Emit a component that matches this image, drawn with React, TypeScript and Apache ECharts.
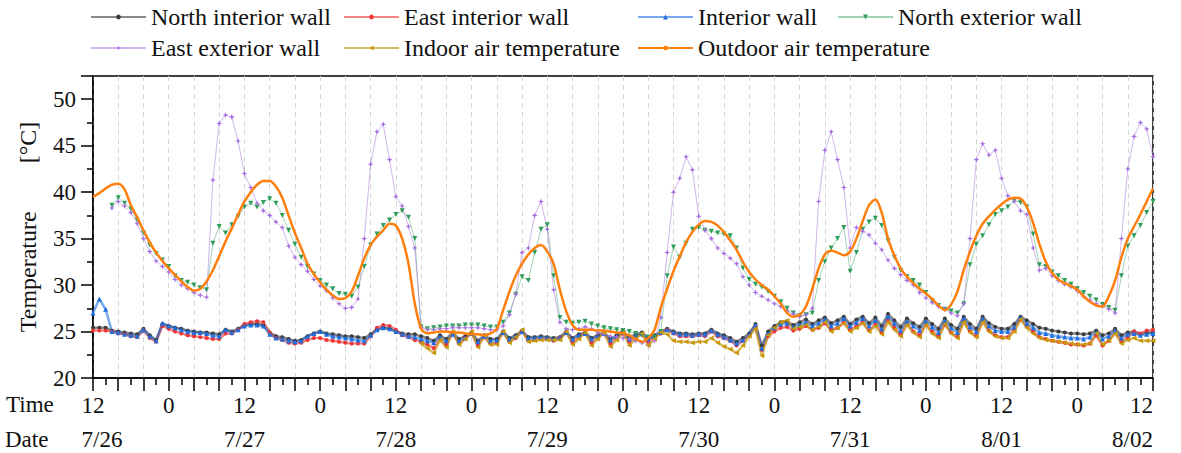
import React, { useEffect, useRef } from 'react';
import * as echarts from 'echarts';

// Hours are counted from 7/26 12:00 (0) to 8/02 12:00 (168), hourly samples.
const dateLabels = ['7/26', '7/27', '7/28', '7/29', '7/30', '7/31', '8/01', '8/02'];

const outdoorAir = [
  39.5, 39.9, 40.4, 40.8, 40.9, 40.3, 38.6, 37.3, 35.9, 34.6,
  33.5, 32.6, 31.8, 31.1, 30.4, 29.8, 29.4, 29.6, 30.4, 31.6,
  33.1, 34.7, 36.1, 37.6, 39.0, 40.0, 40.8, 41.2, 41.2, 40.6,
  39.4, 37.5, 35.6, 34.0, 32.3, 31.2, 30.3, 29.5, 28.9, 28.5,
  28.6, 29.3, 31.0, 32.9, 34.3, 35.2, 35.9, 36.6, 36.4, 35.0,
  32.3, 28.0, 25.3, 24.8, 24.9, 25.0, 25.0, 24.9, 24.9, 24.8,
  24.7, 24.7, 24.6, 24.8, 25.3, 27.3, 29.3, 31.0, 32.3, 33.3,
  34.0, 34.3, 33.6, 32.3, 29.5, 27.2, 25.7, 25.2, 25.2, 25.2,
  25.1, 25.1, 25.0, 24.9, 24.8, 24.6, 24.2, 23.9, 24.3, 25.2,
  27.6, 29.6, 31.5, 33.1, 34.6, 35.7, 36.5, 36.9, 36.8, 36.4,
  35.7, 34.8, 33.8, 32.5, 31.4, 30.6, 30.0, 29.5, 28.8, 28.0,
  27.0, 26.6, 26.8, 27.7, 29.6, 31.8, 33.3, 33.7, 33.5, 33.2,
  33.6, 35.0, 36.9, 38.6, 39.2, 37.8, 35.0, 33.2, 31.8, 30.9,
  30.2, 29.6, 29.1, 28.5, 27.8, 27.3, 27.9, 29.3, 31.6, 33.6,
  35.3, 36.6, 37.4, 38.1, 38.7, 39.2, 39.4, 39.3, 38.4, 36.7,
  34.4, 32.5, 31.3, 30.6, 30.2, 29.9, 29.5, 28.8, 28.2, 27.8,
  27.7, 28.8, 30.5, 33.0, 35.0, 36.3, 37.6, 39.0, 40.4,
];

const northExteriorWall = [
  null, null, null, 38.6, 39.4, 38.8, 38.2, 37.0, 35.6, 34.3,
  33.4, 32.7, 32.0, 31.0, 30.5, 30.3, 30.0, 29.7, 29.5, 34.5,
  36.3, 35.6, 36.5, 37.4, 38.4, 38.8, 38.4, 38.9, 39.3, 38.8,
  37.5, 35.9, 34.4, 33.0, 32.0, 31.2, 30.5, 30.0, 29.6, 29.1,
  29.0, 28.8, 29.8, 32.0, 34.3, 35.5, 36.4, 37.0, 37.6, 38.0,
  37.3, 35.0, 25.5, 25.3, 25.4, 25.5, 25.6, 25.6, 25.6, 25.7,
  25.7, 25.7, 25.6, 25.5, 25.5, 26.0, 27.0, 29.0, 30.9, 30.5,
  33.5, 36.0, 36.5, 31.0, 26.5, 26.0, 25.9, 26.0, 26.1, 25.8,
  25.6, 25.4, 25.3, 25.2, 25.1, 25.0, 24.8, 24.6, 24.4, 24.4,
  25.0, 31.0, 34.1, 33.0, 34.5, 36.0, 36.2, 35.9, 35.8, 35.6,
  35.5, 35.3, 34.0, 31.8, 30.6, 30.1, 29.8, 29.3, 28.8, 28.2,
  27.5, 27.0, 26.7, 26.8, 27.0, 30.5, 32.5, 34.0, 35.0, 36.2,
  31.5, 33.5, 36.0, 36.8, 37.2, 36.4, 34.8, 33.0, 31.6, 30.9,
  30.5, 30.0, 29.2, 28.3, 27.8, 27.4, 27.2, 27.0, 28.0, 32.2,
  34.4, 35.3, 36.5, 37.6, 38.0, 38.4, 39.1, 38.9, 38.4, 35.5,
  32.2, 32.0, 31.4, 31.0, 30.5, 30.1, 29.6, 29.2, 28.8, 28.4,
  27.9, 27.6, 27.3, 31.0, 34.2, 35.3, 36.4, 37.8, 39.0,
];

const eastExteriorWall = [
  null, null, null, 38.3, 39.0, 38.5, 37.8, 36.6, 35.0, 33.6,
  32.6, 32.0, 31.4, 30.6, 30.0, 29.6, 29.2, 28.9, 28.7, 41.3,
  47.4, 48.3, 48.1, 45.5, 42.0, 40.5, 38.8, 38.0, 37.5, 36.8,
  36.2, 34.2, 33.0, 32.2, 31.5, 30.6, 29.9, 29.4, 28.6, 28.0,
  27.5, 27.6, 28.5, 35.0, 43.0, 46.5, 47.3, 43.5, 39.5, 38.5,
  36.3, 34.0, 25.4, 25.2, 25.2, 25.3, 25.3, 25.4, 25.4, 25.4,
  25.4, 25.4, 25.3, 25.2, 25.2, 25.6, 26.8, 29.0, 33.5, 34.0,
  37.5, 39.0, 36.0, 29.5, 26.0, 25.3, 25.2, 25.3, 25.5, 25.3,
  24.9, 24.7, 24.5, 24.4, 24.3, 24.2, 24.0, 23.8, 23.5, 24.0,
  26.5, 33.5, 40.0, 41.5, 43.8, 42.4, 37.4, 35.9, 35.0, 34.0,
  33.4, 32.9, 32.3, 30.9, 30.0, 29.2, 28.8, 28.4, 28.0, 27.7,
  27.2, 26.9, 26.6, 26.8, 27.5, 39.0, 44.5, 46.5, 43.5, 40.5,
  34.0, 36.2, 35.8, 35.4, 34.5, 33.8, 32.7, 31.8, 31.1, 30.5,
  30.0, 29.2, 28.6, 28.1, 27.7, 27.4, 27.0, 26.7, 28.0, 35.0,
  43.5, 45.2, 44.0, 44.5, 41.5, 39.6, 39.0, 38.0, 37.6, 34.0,
  31.6, 31.8, 31.0, 30.5, 30.1, 29.8, 29.4, 28.8, 28.4, 28.0,
  27.7, 27.4, 27.0, 35.0, 42.5, 46.0, 47.5, 46.8, 43.8,
];

const northInteriorWall = [
  25.4, 25.4, 25.4, 25.1, 25.0, 24.9, 24.8, 24.7, 25.3, 24.6,
  24.1, 25.8, 25.6, 25.4, 25.3, 25.1, 25.0, 24.9, 24.9, 24.8,
  24.7, 25.2, 25.0, 25.3, 25.7, 25.8, 25.8, 25.7, 24.9, 24.5,
  24.4, 24.2, 24.0, 24.1, 24.5, 24.8, 25.0, 24.8, 24.7, 24.6,
  24.5, 24.5, 24.4, 24.3, 24.7, 25.2, 25.4, 25.3, 25.0, 24.8,
  24.7, 24.7, 24.5, 24.3, 24.0, 24.6, 24.2, 24.9, 24.2, 24.5,
  24.9, 24.0, 24.6, 24.2, 24.2, 25.0, 24.3, 24.6, 25.1, 24.4,
  24.4, 24.5, 24.4, 24.3, 24.4, 25.0, 24.3, 24.7, 24.9, 24.3,
  24.6, 24.9, 24.2, 24.6, 25.0, 24.3, 24.7, 24.9, 24.3, 24.6,
  25.0, 25.3, 25.0, 24.8, 24.8, 24.7, 24.8, 24.8, 25.2, 24.8,
  24.6, 24.3, 23.9, 24.3, 24.8, 25.8, 23.5, 25.0, 25.6, 26.0,
  26.1, 25.7, 26.0, 26.3, 25.8, 26.2, 26.5, 25.9, 26.2, 26.6,
  25.8, 26.3, 26.6, 25.9, 26.5, 25.6, 26.9, 26.2, 25.5, 26.4,
  25.9, 25.5, 26.4, 25.8, 25.3, 26.4, 25.7, 25.3, 26.6, 25.8,
  25.3, 26.6, 25.9, 25.5, 25.3, 25.3, 25.8, 26.6, 26.2, 25.8,
  25.4, 25.3, 25.1, 25.0, 24.9, 24.8, 24.8, 24.7, 24.8, 25.1,
  24.6, 24.8, 25.3, 24.6, 24.9, 25.0, 24.7, 24.9, 24.9,
];

const eastInteriorWall = [
  25.1, 25.1, 25.1, 25.0, 24.8, 24.7, 24.5, 24.4, 25.1, 24.3,
  23.9, 25.6, 25.3, 25.0, 24.8, 24.6, 24.5, 24.4, 24.3, 24.2,
  24.2, 24.8, 24.8, 25.2, 25.8, 26.0, 26.1, 26.0, 24.9, 24.3,
  24.1, 23.8, 23.7, 23.8, 24.1, 24.3, 24.3, 24.1, 24.0, 23.9,
  23.8, 23.7, 23.7, 23.7, 24.5, 25.4, 25.7, 25.6, 25.2, 24.6,
  24.4, 24.1, 23.9, 23.6, 23.2, 24.2, 23.6, 24.8, 23.7, 24.3,
  24.8, 23.5, 24.4, 23.7, 23.8, 24.9, 23.9, 24.3, 25.0, 24.0,
  24.1, 24.2, 24.2, 24.0, 24.3, 24.9, 23.8, 24.4, 24.8, 23.8,
  24.4, 24.8, 23.7, 24.3, 24.8, 23.9, 24.4, 24.7, 23.9, 24.4,
  24.8, 25.2, 24.8, 24.5, 24.5, 24.5, 24.6, 24.5, 25.0, 24.5,
  24.3, 24.0, 23.5, 24.0, 24.6, 25.6, 23.0, 24.5, 25.0, 25.4,
  25.5, 25.1, 25.3, 25.6, 25.2, 25.4, 25.9, 25.2, 25.4, 26.0,
  25.2, 25.6, 26.0, 25.1, 25.8, 24.9, 26.3, 25.4, 24.7, 25.9,
  25.0, 24.6, 25.8, 25.0, 24.5, 25.8, 24.9, 24.4, 26.2, 25.0,
  24.5, 26.2, 25.1, 24.6, 24.4, 24.4, 25.2, 26.3, 25.6, 25.0,
  24.4, 24.2, 24.0, 23.9, 23.8, 23.6, 23.6, 23.5, 23.7, 24.6,
  23.5, 24.0, 25.0, 23.9, 24.4, 25.0, 24.8, 25.1, 25.2,
];

const interiorWall = [
  27.0, 28.5, 27.4, 25.0, 24.9, 24.7, 24.6, 24.5, 25.2, 24.5,
  24.0, 25.9, 25.6, 25.4, 25.2, 25.0, 24.9, 24.9, 24.8, 24.6,
  24.5, 25.2, 24.9, 25.2, 25.6, 25.7, 25.7, 25.6, 24.7, 24.3,
  24.2, 24.0, 23.9, 24.0, 24.5, 24.8, 25.0, 24.7, 24.5, 24.4,
  24.3, 24.2, 24.1, 24.0, 24.6, 25.2, 25.4, 25.3, 25.0, 24.7,
  24.5, 24.4, 24.2, 24.0, 23.8, 24.4, 24.0, 24.7, 24.0, 24.3,
  24.8, 23.9, 24.5, 24.0, 24.1, 24.9, 24.2, 24.5, 25.0, 24.3,
  24.3, 24.4, 24.3, 24.2, 24.3, 24.9, 24.2, 24.6, 24.8, 24.2,
  24.5, 24.8, 24.1, 24.5, 24.9, 24.2, 24.6, 24.8, 24.2, 24.5,
  24.9, 25.2, 24.9, 24.7, 24.7, 24.6, 24.7, 24.7, 25.1, 24.7,
  24.4, 24.1, 23.7, 24.1, 24.7, 25.7, 23.2, 24.8, 25.4, 25.8,
  25.9, 25.5, 25.7, 26.0, 25.6, 25.9, 26.3, 25.6, 25.9, 26.4,
  25.6, 26.0, 26.4, 25.6, 26.2, 25.3, 26.6, 25.9, 25.1, 26.1,
  25.6, 25.1, 26.1, 25.5, 24.9, 26.1, 25.4, 24.9, 26.4, 25.5,
  25.0, 26.4, 25.6, 25.1, 25.0, 25.0, 25.5, 26.5, 25.9, 25.4,
  24.9, 24.8, 24.6, 24.5, 24.4, 24.3, 24.3, 24.2, 24.4, 24.9,
  24.2, 24.5, 25.1, 24.3, 24.7, 24.8, 24.6, 24.7, 24.8,
];

// Indoor air temperature was recorded from hour 52 (7/28 16:00) onward.
const indoorAirStartHour = 52;
const indoorAir = [
  23.7, 23.2, 22.7, 24.1, 23.3, 25.0, 23.6, 24.2, 25.0, 23.3,
  24.6, 23.6, 23.6, 25.0, 23.8, 24.4, 25.2, 23.9, 24.0, 24.1,
  24.1, 24.1, 24.1, 25.0, 23.6, 24.2, 24.9, 23.5, 24.2, 24.9,
  23.4, 24.1, 24.9, 23.5, 24.2, 24.8, 23.5, 24.2, 24.9, 24.7,
  24.0, 23.9, 23.9, 23.8, 23.9, 23.9, 24.3, 23.8, 23.4, 23.1,
  22.7, 23.5, 24.5, 25.3, 22.4, 24.6, 25.4, 26.0, 26.2, 25.3,
  25.5, 25.7, 25.2, 25.5, 26.0, 25.0, 25.4, 25.9, 25.0, 25.4,
  25.9, 25.0, 25.6, 24.7, 26.0, 25.2, 24.5, 25.7, 24.9, 24.4,
  25.7, 24.8, 24.3, 25.8, 24.8, 24.3, 26.0, 24.9, 24.4, 26.0,
  25.0, 24.5, 24.3, 24.3, 25.0, 26.3, 25.4, 24.8, 24.3, 24.1,
  24.0, 23.9, 23.8, 23.7, 23.6, 23.6, 23.7, 24.8, 23.6, 24.0,
  24.8, 23.7, 24.1, 24.3, 24.0, 24.0, 24.0,
];

function toPairs(arr: (number | null)[], start = 0): [number, number][] {
  const out: [number, number][] = [];
  arr.forEach((v, i) => {
    if (v !== null) out.push([i + start, v]);
  });
  return out;
}

const FONT = 'Liberation Serif';
const TEXT = '#111111';
const STAR = 'path://M0,-10L2.6,-2.6L10,0L2.6,2.6L0,10L-2.6,2.6L-10,0L-2.6,-2.6Z';

export default function App() {
  const ref = useRef<HTMLDivElement>(null);

  useEffect(() => {
    if (!ref.current) return;
    const chart = echarts.init(ref.current, null, { renderer: 'svg' });

    const mk = (
      name: string,
      data: [number, number][],
      color: string,
      lineColor: string,
      width: number,
      symbol: string,
      size: number,
      rotate = 0,
    ) => ({
      name,
      type: 'line',
      data,
      xAxisIndex: 0,
      yAxisIndex: 0,
      symbol,
      symbolSize: size,
      symbolRotate: rotate,
      showSymbol: true,
      lineStyle: { color: lineColor, width },
      itemStyle: { color },
      emphasis: { disabled: true },
    });

    const legendBase = {
      orient: 'vertical',
      top: 5,
      itemWidth: 55,
      itemHeight: 6,
      itemGap: 7,
      padding: 0,
      selectedMode: false,
      textStyle: { fontFamily: FONT, fontSize: 24, color: TEXT, lineHeight: 24 },
    };

    chart.setOption({
      animation: false,
      backgroundColor: '#ffffff',
      textStyle: { fontFamily: FONT },
      legend: [
        { ...legendBase, left: 90, data: ['North interior wall', 'East exterior wall'] },
        { ...legendBase, left: 343, data: ['East interior wall', 'Indoor air temperature'] },
        { ...legendBase, left: 637, data: ['Interior wall', 'Outdoor air temperature'] },
        { ...legendBase, left: 837, data: ['North exterior wall'] },
      ],
      grid: {
        left: 93,
        right: 28,
        top: 76,
        bottom: 75,
        show: true,
        borderColor: '#000',
        borderWidth: 1.5,
        backgroundColor: 'transparent',
      },
      graphic: [
        { type: 'text', left: 6, top: 393, style: { text: 'Time', fontFamily: FONT, fontSize: 23, fill: TEXT } },
        { type: 'text', left: 5, top: 428, style: { text: 'Date', fontFamily: FONT, fontSize: 23, fill: TEXT } },
      ],
      xAxis: [
        {
          type: 'value',
          min: 0,
          max: 168,
          interval: 4,
          position: 'bottom',
          axisLine: { show: true, onZero: false, lineStyle: { color: '#000', width: 1.5 } },
          axisTick: { show: true, inside: false, length: 13, lineStyle: { color: '#000', width: 1.5 } },
          minorTick: { show: true, splitNumber: 2, length: 7, lineStyle: { color: '#000', width: 1.5 } },
          splitLine: { show: true, lineStyle: { color: '#d6d6d6', width: 1, type: [5, 4] } },
          axisLabel: {
            margin: 16,
            fontFamily: FONT,
            fontSize: 23,
            color: TEXT,
            alignMaxLabel: 'right',
            formatter: (v: number) => (v % 12 === 0 ? (v % 24 === 0 ? '12' : '0') : ''),
          },
        },
        {
          type: 'value',
          min: 0,
          max: 168,
          interval: 24,
          position: 'bottom',
          axisLine: { show: false, onZero: false },
          axisTick: { show: false },
          splitLine: { show: false },
          axisLabel: {
            margin: 50,
            fontFamily: FONT,
            fontSize: 23,
            color: TEXT,
            alignMaxLabel: 'right',
            rich: { first: { fontFamily: FONT, fontSize: 23, color: TEXT, padding: [0, 0, 0, 18] } },
            formatter: (v: number) => {
              const label = dateLabels[Math.round(v / 24)] ?? '';
              return v === 0 ? `{first|${label}}` : label;
            },
          },
        },
      ],
      yAxis: {
        type: 'value',
        min: 20,
        max: 52.5,
        interval: 5,
        name: 'Temperature\u2003\u2003[°C]',
        nameLocation: 'middle',
        nameRotate: 90,
        nameGap: 53,
        nameTextStyle: { fontFamily: FONT, fontSize: 24, color: TEXT },
        axisLine: { show: true, onZero: false, lineStyle: { color: '#000', width: 1.5 } },
        axisTick: { show: true, inside: false, length: 12, lineStyle: { color: '#000', width: 1.5 } },
        minorTick: { show: true, splitNumber: 2, length: 6, lineStyle: { color: '#000', width: 1.5 } },
        splitLine: { show: false },
        axisLabel: {
          margin: 17,
          fontFamily: FONT,
          fontSize: 23,
          color: TEXT,
          formatter: (v: number) => (Math.abs(v % 5) < 1e-6 ? String(v) : ''),
        },
      },
      series: [
        mk('North interior wall', toPairs(northInteriorWall), '#3c3c3c', 'rgba(60,60,60,0.6)', 2.5, 'circle', 4),
        mk('East interior wall', toPairs(eastInteriorWall), '#ee3535', 'rgba(238,53,53,0.6)', 2.5, 'circle', 4),
        mk('Interior wall', toPairs(interiorWall), '#1f6fe0', 'rgba(31,111,224,0.6)', 2.5, 'triangle', 5),
        mk('North exterior wall', toPairs(northExteriorWall), '#2f9e5a', 'rgba(47,158,90,0.45)', 1, 'triangle', 5, 180),
        mk('East exterior wall', toPairs(eastExteriorWall), '#a66ee0', 'rgba(166,110,224,0.5)', 1, STAR, 6),
        mk('Indoor air temperature', toPairs(indoorAir, indoorAirStartHour), '#c8980a', 'rgba(200,152,10,0.65)', 2.5, 'triangle', 5, 90),
        {
          name: 'Outdoor air temperature',
          type: 'line',
          data: toPairs(outdoorAir),
          xAxisIndex: 0,
          yAxisIndex: 0,
          smooth: 0.3,
          symbol: 'circle',
          symbolSize: 3,
          showSymbol: false,
          lineStyle: { color: '#ff7f0e', width: 2.5 },
          itemStyle: { color: '#ff7f0e' },
          emphasis: { disabled: true },
          z: 5,
        },
      ],
    });

    return () => chart.dispose();
  }, []);

  return (
    <div
      ref={ref}
      style={{ position: 'absolute', left: 0, top: 0, width: 1181, height: 453, background: '#fff' }}
    />
  );
}
